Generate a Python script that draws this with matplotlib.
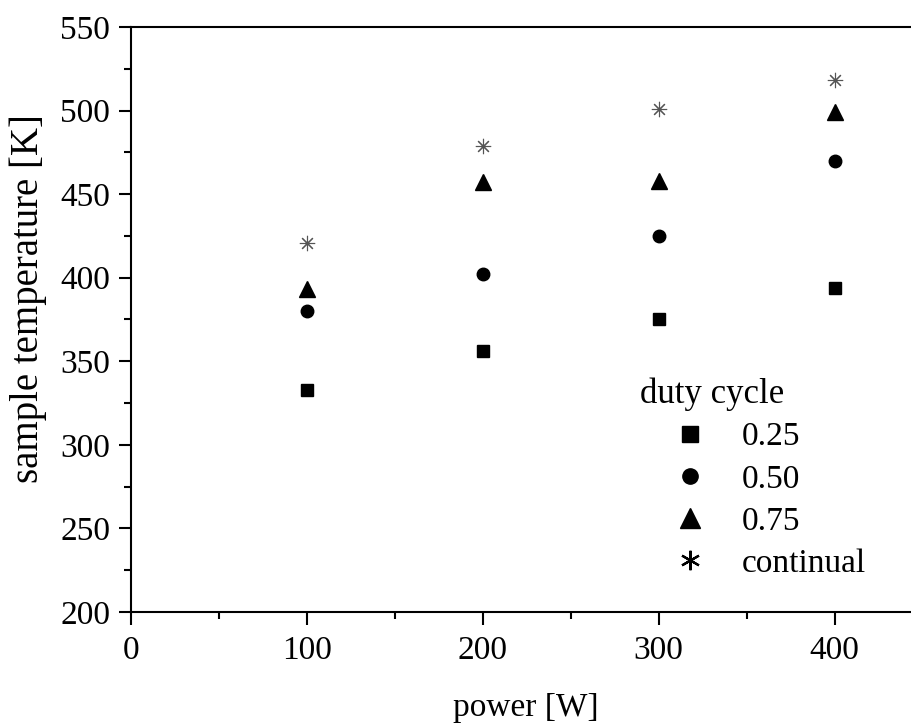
import matplotlib
matplotlib.use("Agg")
import matplotlib.pyplot as plt
from matplotlib.lines import Line2D
from matplotlib.ticker import MultipleLocator

plt.rcParams['font.family'] = ['Liberation Serif', 'DejaVu Serif']

# data
power = [100, 200, 300, 400]
t_025 = [333, 356, 375, 394]
t_050 = [380, 402, 425, 470]
t_075 = [393, 457, 458, 499]
t_cont = [421, 479, 501, 518]
labels = ['0.25', '0.50', '0.75', 'continual']

fig = plt.figure(figsize=(9.12, 7.24), dpi=100)
ax = fig.add_axes([131 / 912, 112 / 724, 1 - 131 / 912, 585 / 724])

ax.plot(power, t_025, ls='none', marker='s', ms=8, color='black')
ax.plot(power, t_050, ls='none', marker='o', ms=9, color='black')
ax.plot(power, t_075, ls='none', marker='^', ms=11, color='black')
ax.plot(power, t_cont, ls='none', marker=(8, 2, 0), ms=11, mew=0.8,
        color='#555555')

ax.set_xlim(0, 444)
ax.set_ylim(200, 550)
ax.xaxis.set_major_locator(MultipleLocator(100))
ax.xaxis.set_minor_locator(MultipleLocator(50))
ax.yaxis.set_major_locator(MultipleLocator(50))
ax.yaxis.set_minor_locator(MultipleLocator(25))
ax.tick_params(which='both', direction='out', width=1.5, labelsize=24)
ax.tick_params(axis='y', pad=6)
ax.tick_params(axis='x', pad=8)
ax.tick_params(which='major', length=9)
ax.tick_params(which='minor', length=5)
ax.spines['right'].set_visible(False)
for s in ['left', 'bottom', 'top']:
    ax.spines[s].set_linewidth(1.5)

ax.set_xlabel('power [W]', fontsize=24)
ax.xaxis.set_label_coords(0.506, -0.137)
ax.set_ylabel('sample temperature [K]', fontsize=28)
ax.yaxis.set_label_coords(-0.107, 0.536)

handles = [
    Line2D([], [], ls='none', marker='s', ms=11, color='black'),
    Line2D([], [], ls='none', marker='o', ms=11, color='black'),
    Line2D([], [], ls='none', marker='^', ms=14, color='black'),
    Line2D([], [], ls='none', marker=(6, 2, 0), ms=14, mew=1.6, color='black'),
]
ax.text((640 - 131) / 781, (612 - 394) / 585, 'duty cycle',
        transform=ax.transAxes, fontsize=25, va='center', ha='left')
ax.legend(handles, labels, loc='upper left', bbox_to_anchor=(0.694, 0.325),
          frameon=False, fontsize=24, handlelength=1.0, handletextpad=1.07,
          labelspacing=0.35, borderpad=0, borderaxespad=0)

fig.savefig('out.png', dpi=100)
